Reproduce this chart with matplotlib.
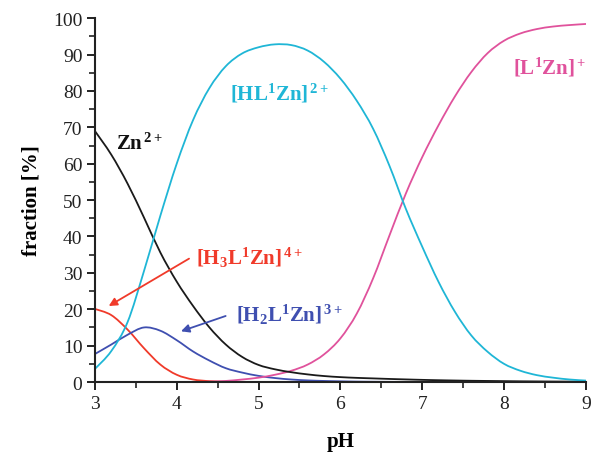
import numpy as np
import matplotlib
matplotlib.use("Agg")
import matplotlib.pyplot as plt
from matplotlib.path import Path
from matplotlib.patches import PathPatch

pH = [3.0, 3.2, 3.4, 3.6, 3.8, 4.0, 4.2, 4.4, 4.6, 4.8, 5.0, 5.2, 5.4, 5.6, 5.8, 6.0,
      6.2, 6.4, 6.6, 6.8, 7.0, 7.2, 7.4, 7.6, 7.8, 8.0, 8.2, 8.4, 8.6, 8.8, 9.0]

zn = [69.0, 62.5, 54.5, 45.2, 35.6, 27.6, 20.9, 15.0, 10.3, 6.9, 4.7, 3.5, 2.7, 2.1, 1.65, 1.35,
      1.15, 1.0, 0.85, 0.72, 0.6, 0.5, 0.42, 0.35, 0.3, 0.25, 0.2, 0.17, 0.14, 0.12, 0.1]

hl_zn = [3.6, 8.5, 16.5, 30.5, 45.7, 60.0, 72.0, 80.8, 86.8, 90.3, 92.0, 92.8, 92.6, 91.1, 88.0, 83.4,
         77.3, 69.6, 59.4, 47.6, 37.2, 27.5, 19.3, 12.8, 8.3, 5.0, 3.1, 1.9, 1.2, 0.7, 0.4]

l_zn = [0, 0, 0, 0, 0, 0, 0, 0.1, 0.3, 0.7, 1.2, 2.0, 3.1, 4.8, 7.6, 12.0,
        18.8, 28.5, 40.3, 51.8, 61.8, 70.6, 78.5, 85.2, 90.4, 93.8, 95.8, 97.0, 97.7, 98.1, 98.4]

h3l_zn = [20.1, 18.4, 14.4, 9.3, 4.8, 2.0, 0.7, 0.25, 0.1, 0.05, 0, 0, 0, 0, 0, 0,
          0, 0, 0, 0, 0, 0, 0, 0, 0, 0, 0, 0, 0, 0, 0]

h2l_zn = [7.7, 10.3, 13.0, 15.0, 14.1, 11.5, 8.4, 5.9, 3.8, 2.6, 1.7, 1.1, 0.7, 0.45, 0.3, 0.2,
          0.12, 0.08, 0.05, 0.03, 0.02, 0.01, 0, 0, 0, 0, 0, 0, 0, 0, 0]

c_black = "#1a1a1a"
c_cyan = "#1fb6d6"
c_pink = "#e0529c"
c_red = "#f03a2a"
c_blue = "#3f4fb0"

plt.rcParams['font.family'] = ['Liberation Serif', 'DejaVu Serif']
plt.rcParams['mathtext.fontset'] = 'custom'
plt.rcParams['mathtext.rm'] = 'Liberation Serif:bold'
plt.rcParams['mathtext.bf'] = 'Liberation Serif:bold'
plt.rcParams['mathtext.it'] = 'Liberation Serif:bold'

fig = plt.figure(figsize=(5.93, 4.56), dpi=100)
ax = fig.add_axes([0.160, 0.160, 0.828, 0.798])


def smooth_curve(ax, x, y, color, lw):
    """Draw a smooth (Catmull-Rom Bezier) line through the data points."""
    x = np.asarray(x, float)
    y = np.asarray(y, float)
    pts = np.column_stack([x, y])
    n = len(pts)
    verts = [pts[0]]
    codes = [Path.MOVETO]
    for i in range(n - 1):
        p0 = pts[i - 1] if i > 0 else pts[i]
        p1 = pts[i]
        p2 = pts[i + 1]
        p3 = pts[i + 2] if i + 2 < n else pts[i + 1]
        c1 = p1 + (p2 - p0) / 6.0
        c2 = p2 - (p3 - p1) / 6.0
        c1[1] = max(c1[1], 0.0)
        c2[1] = max(c2[1], 0.0)
        verts += [c1, c2, p2]
        codes += [Path.CURVE4, Path.CURVE4, Path.CURVE4]
    patch = PathPatch(Path(verts, codes), facecolor='none', edgecolor=color,
                      lw=lw, transform=ax.transData, capstyle='round', joinstyle='round')
    ax.add_patch(patch)
    return patch


lw = 1.3
smooth_curve(ax, pH, h3l_zn, c_red, lw)
smooth_curve(ax, pH, h2l_zn, c_blue, lw)
smooth_curve(ax, pH, l_zn, c_pink, lw)
smooth_curve(ax, pH, zn, c_black, lw)
smooth_curve(ax, pH, hl_zn, c_cyan, lw)

ax.set_xlim(3, 9)
ax.set_ylim(0, 100)
ax.set_xticks(np.arange(3, 10, 1))
ax.set_yticks(np.arange(0, 101, 10))
ax.set_xticks(np.arange(3.5, 9, 1), minor=True)
ax.set_yticks(np.arange(5, 100, 10), minor=True)

for s in ['top', 'right']:
    ax.spines[s].set_visible(False)
for s in ['left', 'bottom']:
    ax.spines[s].set_linewidth(1.5)
    ax.spines[s].set_color('#222222')

ax.tick_params(axis='both', which='major', direction='out', length=6, width=1.4,
               labelsize=14, colors='#222222', pad=3)
ax.tick_params(axis='both', which='minor', direction='out', length=4, width=1.2,
               colors='#222222')

ax.set_xlabel('pH', fontsize=15, fontweight='bold', labelpad=14)
ax.set_ylabel('fraction [%]', fontsize=15, fontweight='bold', labelpad=8)

fs = 15
ax.text(3.26, 64.0, r'Zn$^{\,\mathbf{2+}}$', color='#111111', fontsize=fs, fontweight='bold', va='baseline')
ax.text(4.65, 77.7, r'[HL$^{\mathbf{1}}$Zn]$^{\,\mathbf{2+}}$', color=c_cyan, fontsize=fs, fontweight='bold', va='baseline')
ax.text(8.11, 84.8, r'[L$^{\mathbf{1}}$Zn]$^{\,\mathbf{+}}$', color=c_pink, fontsize=fs, fontweight='bold', va='baseline')
ax.text(4.23, 32.4, r'[H$_{\mathbf{3}}$L$^{\mathbf{1}}$Zn]$^{\,\mathbf{4+}}$', color=c_red, fontsize=fs, fontweight='bold', va='baseline')
ax.text(4.73, 16.8, r'[H$_{\mathbf{2}}$L$^{\mathbf{1}}$Zn]$^{\,\mathbf{3+}}$', color=c_blue, fontsize=fs, fontweight='bold', va='baseline')

ax.annotate('', xy=(3.14, 20.5), xytext=(4.18, 34.3),
            arrowprops=dict(arrowstyle='-|>', color=c_red, lw=1.3, mutation_scale=12))
ax.annotate('', xy=(4.02, 13.7), xytext=(4.63, 18.4),
            arrowprops=dict(arrowstyle='-|>', color=c_blue, lw=1.3, mutation_scale=12))

fig.savefig('out.png', dpi=100)
